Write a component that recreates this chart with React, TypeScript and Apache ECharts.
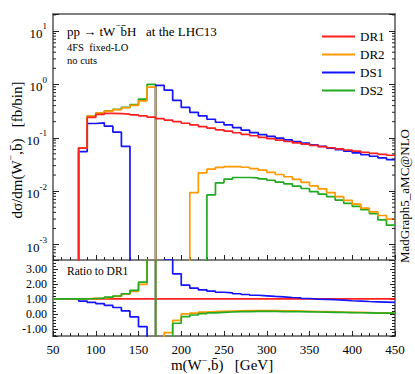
import React, { useEffect, useRef } from 'react';
import * as echarts from 'echarts';

const FONT = "'Liberation Serif', 'DejaVu Serif', 'Times New Roman', serif";

// lower bin edges (GeV), bins of 10 GeV; last bin ends at 450
const binEdges = [50, 60, 70, 80, 90, 100, 110, 120, 130, 140, 150, 160, 170, 180, 190, 200, 210, 220, 230, 240,
  250, 260, 270, 280, 290, 300, 310, 320, 330, 340, 350, 360, 370, 380, 390, 400, 410, 420, 430, 440];
const xEnd = 450;

// main panel, dσ/dm [fb/bin] (0 = empty / not positive)
const dr1 = [0, 0, 0, 0.064, 0.24, 0.275, 0.285, 0.283, 0.277, 0.268, 0.257, 0.243, 0.228, 0.214, 0.2, 0.187,
  0.174, 0.162, 0.151, 0.141, 0.133, 0.124, 0.116, 0.109, 0.102, 0.096, 0.09, 0.085, 0.08, 0.076, 0.072, 0.068,
  0.065, 0.062, 0.059, 0.056, 0.053, 0.051, 0.049, 0.047];
const dr2 = [0, 0, 0, 0.064, 0.255, 0.29, 0.315, 0.335, 0.365, 0.405, 0.49, 0.89, 0, 0, 0, 0,
  0.0094, 0.022, 0.0258, 0.0278, 0.0289, 0.0289, 0.028, 0.0265, 0.0247, 0.0225, 0.0205, 0.0186, 0.0166, 0.0146,
  0.0126, 0.011, 0.0094, 0.0079, 0.0067, 0.0057, 0.0048, 0.0041, 0.0035, 0.003];
const ds1 = [0, 0, 0, 0.055, 0.185, 0.19, 0.165, 0.128, 0.069, 0, 0, 0, 0.96, 0.78, 0.5, 0.37,
  0.3, 0.258, 0.222, 0.195, 0.175, 0.155, 0.139, 0.125, 0.114, 0.106, 0.098, 0.091, 0.085, 0.079, 0.074, 0.069,
  0.064, 0.06, 0.056, 0.052, 0.048, 0.045, 0.042, 0.039];
const ds2 = [0, 0, 0, 0.064, 0.255, 0.29, 0.318, 0.34, 0.372, 0.42, 0.53, 1.0, 0, 0, 0, 0,
  0, 0, 0.0085, 0.0143, 0.0168, 0.018, 0.018, 0.0177, 0.0169, 0.016, 0.0147, 0.0137, 0.0124, 0.0112,
  0.0098, 0.0088, 0.0079, 0.0068, 0.0059, 0.0052, 0.0045, 0.0038, 0.0029, 0.0023];

// ratio panel, ratio to DR1
const ratioDR1 = [1, 1, 1, 1, 1, 1, 1, 1, 1, 1, 1, 1, 1, 1, 1, 1, 1, 1, 1, 1,
  1, 1, 1, 1, 1, 1, 1, 1, 1, 1, 1, 1, 1, 1, 1, 1, 1, 1, 1, 1];
const ratioDR2 = [1, 1, 1, 1, 1.04, 1.06, 1.1, 1.18, 1.33, 1.5, 1.97, 3.7, -3, -1.25, -0.43, 0.0,
  0.06, 0.12, 0.15, 0.17, 0.19, 0.21, 0.22, 0.22, 0.22, 0.22, 0.21, 0.2, 0.19, 0.18, 0.16, 0.15,
  0.14, 0.12, 0.11, 0.1, 0.09, 0.08, 0.07, 0.06];
const ratioDS1 = [1, 1, 1, 0.86, 0.77, 0.69, 0.57, 0.43, 0.2, -0.2, -0.85, -3, 4.2, 3.65, 2.68, 1.92,
  1.72, 1.61, 1.52, 1.45, 1.41, 1.35, 1.3, 1.25, 1.21, 1.17, 1.14, 1.1, 1.08, 1.03, 0.99, 0.97,
  0.95, 0.92, 0.88, 0.86, 0.83, 0.81, 0.79, 0.77];
const ratioDS2 = [1, 1, 1, 1, 1.03, 1.06, 1.12, 1.2, 1.35, 1.57, 2.12, 4.1, -3, -3, -0.62, -0.18,
  -0.07, 0.02, 0.07, 0.11, 0.13, 0.15, 0.16, 0.17, 0.17, 0.17, 0.16, 0.16, 0.15, 0.14, 0.13, 0.12,
  0.11, 0.1, 0.09, 0.08, 0.07, 0.06, 0.05, 0.05];

const seriesNames = ['DR1', 'DR2', 'DS1', 'DS2'];
const colors = { DR1: '#ff2020', DR2: '#ff9900', DS1: '#1414ff', DS2: '#22aa22' };

const yMin = 5.13e-4;
const yMax = 20.8;
const rMin = -1.47;
const rMax = 3.6;

const minorMult = [2, 3, 4, 5, 6, 7, 8, 9];
const decades = [-4, -3, -2, -1, 0, 1];

function stepData(vals: number[], log: boolean) {
  const f = (v: number) => (log ? (v > 0 ? v : 1e-7) : v);
  const d: number[][] = binEdges.map((e, i) => [e, f(vals[i])]);
  d.push([xEnd, f(vals[vals.length - 1])]);
  return d;
}

function buildOption() {
  const minorTicks: number[][] = [];
  decades.forEach((k) => minorMult.forEach((m) => {
    const v = m * Math.pow(10, k);
    if (v > yMin && v < yMax) minorTicks.push([50, v]);
  }));

  const lineSeries = (name: string, vals: number[], grid: number, z: number) => ({
    name,
    type: 'line',
    step: 'end',
    xAxisIndex: grid,
    yAxisIndex: grid === 0 ? 0 : 2,
    data: stepData(vals, grid === 0),
    symbol: 'none',
    showSymbol: false,
    clip: true,
    z,
    lineStyle: { color: (colors as any)[name], width: 1.7 },
    itemStyle: { color: (colors as any)[name] },
    emphasis: { disabled: true },
  });

  const tickStyle = { color: '#222', width: 1 };
  const xAxisBase = {
    type: 'value',
    min: 50,
    max: 450,
    interval: 50,
    axisLine: { show: false, onZero: false },
    splitLine: { show: false },
    axisTick: { show: true, inside: true, length: 5, lineStyle: tickStyle },
    minorTick: { show: true, splitNumber: 5, length: 3, lineStyle: tickStyle },
  };

  const logFmt = (v: number) => {
    const l = Math.log10(v);
    const r = Math.round(l);
    if (Math.abs(l - r) > 1e-6) return '';
    return `{b|10}{s|${r}}`;
  };
  const ratioFmt = (v: number) => (Math.abs(v - Math.round(v)) < 1e-6 ? Math.round(v).toFixed(2) : '');

  const sup = { fontSize: 9, lineHeight: 10, verticalAlign: 'top', fontFamily: FONT, color: '#000' };

  return {
    animation: false,
    grid: [
      { left: 53, top: 14, width: 342, height: 246, show: true, borderColor: '#808080', borderWidth: 2, backgroundColor: 'transparent' },
      { left: 53, top: 260, width: 342, height: 76, show: true, borderColor: '#808080', borderWidth: 2, backgroundColor: 'transparent' },
    ],
    xAxis: [
      { ...xAxisBase, gridIndex: 0, axisLabel: { show: false } },
      {
        ...xAxisBase, gridIndex: 1,
        axisLabel: { show: true, margin: 7, fontFamily: FONT, fontSize: 13, color: '#000' },
      },
    ],
    yAxis: [
      {
        type: 'log', logBase: 10, gridIndex: 0, min: yMin, max: yMax,
        axisLine: { show: false }, splitLine: { show: false },
        axisTick: { show: true, inside: true, length: 6, lineStyle: tickStyle },
        minorTick: { show: false },
        axisLabel: {
          show: true, margin: 6, formatter: logFmt,
          rich: {
            b: { fontSize: 13, lineHeight: 18, verticalAlign: 'bottom', fontFamily: FONT, color: '#000' },
            s: sup,
          },
        },
      },
      {
        type: 'log', logBase: 10, gridIndex: 0, min: yMin, max: yMax, position: 'right',
        axisLine: { show: false }, splitLine: { show: false },
        axisTick: { show: true, inside: true, length: 6, lineStyle: tickStyle },
        axisLabel: { show: false },
      },
      {
        type: 'value', gridIndex: 1, min: rMin, max: rMax, splitNumber: 5,
        axisLine: { show: false }, splitLine: { show: false },
        axisTick: { show: true, inside: true, length: 5, lineStyle: tickStyle },
        minorTick: { show: true, splitNumber: 5, length: 3, lineStyle: tickStyle },
        axisLabel: { show: true, margin: 6, formatter: ratioFmt, fontFamily: FONT, fontSize: 12, color: '#000' },
      },
      {
        type: 'value', gridIndex: 1, min: rMin, max: rMax, splitNumber: 5, position: 'right',
        axisLine: { show: false }, splitLine: { show: false },
        axisTick: { show: true, inside: true, length: 5, lineStyle: tickStyle },
        minorTick: { show: true, splitNumber: 5, length: 3, lineStyle: tickStyle },
        axisLabel: { show: false },
      },
    ],
    legend: {
      data: seriesNames.map((n) => ({ name: n, icon: 'rect' })),
      orient: 'vertical',
      left: 317,
      top: 24,
      itemWidth: 33,
      itemHeight: 2,
      itemGap: 3,
      selectedMode: false,
      textStyle: { fontFamily: FONT, fontSize: 13, color: '#000', lineHeight: 15 },
    },
    series: [
      lineSeries('DS2', ds2, 0, 2),
      lineSeries('DS1', ds1, 0, 3),
      lineSeries('DR2', dr2, 0, 4),
      lineSeries('DR1', dr1, 0, 5),
      lineSeries('DR1', ratioDR1, 1, 2),
      lineSeries('DS1', ratioDS1, 1, 3),
      lineSeries('DR2', ratioDR2, 1, 4),
      lineSeries('DS2', ratioDS2, 1, 5),
      {
        type: 'custom',
        xAxisIndex: 0,
        yAxisIndex: 0,
        silent: true,
        clip: false,
        z: 6,
        data: minorTicks,
        renderItem: (_p: any, api: any) => {
          const v = api.value(1);
          const a = api.coord([50, v]);
          const b = api.coord([450, v]);
          return {
            type: 'group',
            children: [
              { type: 'line', shape: { x1: a[0], y1: a[1], x2: a[0] + 3, y2: a[1] }, style: { stroke: '#222', lineWidth: 1 } },
              { type: 'line', shape: { x1: b[0] - 3, y1: b[1], x2: b[0], y2: b[1] }, style: { stroke: '#222', lineWidth: 1 } },
            ],
          };
        },
      },
    ],
    graphic: [
      {
        type: 'text', x: 67, y: 29,
        style: {
          text: '{n|pp → tW}{s|−}{n|b\u0304H\u00a0\u00a0\u00a0at the LHC13}',
          verticalAlign: 'middle', textVerticalAlign: 'middle',
          rich: { n: { fontSize: 13, lineHeight: 17, verticalAlign: 'bottom', fontFamily: FONT, fill: '#000', color: '#000' }, s: sup },
        },
      },
      {
        type: 'text', x: 67, y: 47,
        style: { text: '4FS\u00a0\u00a0fixed-LO', fontSize: 10.5, fontFamily: FONT, fill: '#000', verticalAlign: 'middle', textVerticalAlign: 'middle' },
      },
      {
        type: 'text', x: 67, y: 60,
        style: { text: 'no cuts', fontSize: 10.5, fontFamily: FONT, fill: '#000', verticalAlign: 'middle', textVerticalAlign: 'middle' },
      },
      {
        type: 'text', x: 67, y: 271,
        style: { text: 'Ratio to DR1', fontSize: 11.5, fontFamily: FONT, fill: '#000', verticalAlign: 'middle', textVerticalAlign: 'middle' },
      },
      {
        type: 'text', x: 404, y: 196, rotation: Math.PI / 2,
        style: {
          text: 'MadGraph5_aMC@NLO', fontSize: 13, fontFamily: FONT, fill: '#000',
          align: 'center', textAlign: 'center', verticalAlign: 'middle', textVerticalAlign: 'middle',
        },
      },
      {
        type: 'text', x: 15, y: 150, rotation: Math.PI / 2,
        style: {
          text: '{n|dσ/dm(W}{s|−}{n|,b\u0304)\u00a0\u00a0\u00a0[fb/bin]}',
          align: 'center', textAlign: 'center', verticalAlign: 'middle', textVerticalAlign: 'middle',
          rich: { n: { fontSize: 15, lineHeight: 19, verticalAlign: 'bottom', fontFamily: FONT, color: '#000' }, s: { ...sup, fontSize: 10, lineHeight: 11 } },
        },
      },
      {
        type: 'text', x: 222, y: 364,
        style: {
          text: '{n|m(W}{s|−}{n|,b\u0304)\u00a0\u00a0\u00a0[GeV]}',
          align: 'center', textAlign: 'center', verticalAlign: 'middle', textVerticalAlign: 'middle',
          rich: { n: { fontSize: 15, lineHeight: 17, verticalAlign: 'bottom', fontFamily: FONT, color: '#000' }, s: { ...sup, fontSize: 10, lineHeight: 11 } },
        },
      },
    ],
  };
}

export default function App() {
  const ref = useRef<HTMLDivElement>(null);
  useEffect(() => {
    document.body.style.margin = '0';
    const chart = echarts.init(ref.current as HTMLDivElement, null, { renderer: 'svg' });
    chart.setOption(buildOption() as any);
    return () => chart.dispose();
  }, []);
  return <div ref={ref} style={{ width: 415, height: 374 }} />;
}
